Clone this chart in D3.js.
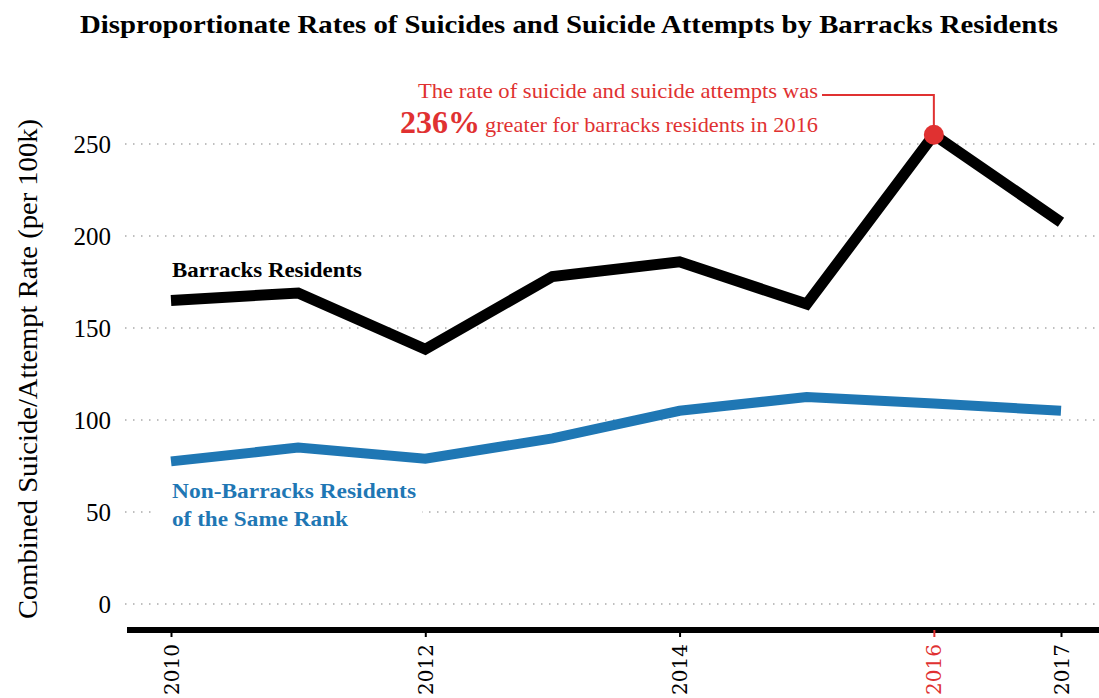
<!DOCTYPE html>
<html>
<head>
<meta charset="utf-8">
<script src="https://cdn.jsdelivr.net/npm/d3@7"></script>
<style>
  body { margin: 0; background: #fff; }
  svg { display: block; font-family: "Liberation Serif", "DejaVu Serif", serif; }
</style>
</head>
<body>
<svg id="chart" width="1099" height="698"></svg>
<script>
const years = [2010, 2011, 2012, 2013, 2014, 2015, 2016, 2017];
const barracks = [165, 169, 138.5, 178, 186, 163, 255, 207.5];
const nonBarracks = [77.5, 85, 79, 90, 105, 112.5, 109, 105];
const yTicks = [0, 50, 100, 150, 200, 250];
const xTicks = [2010, 2012, 2014, 2016, 2017];

const red = '#e03131';
const blue = '#1f77b4';

const svg = d3.select('#chart');
const width = +svg.attr('width');
const height = +svg.attr('height');

const xScale = d3.scaleLinear()
    .domain([2010, 2017])
    .range([171, 1061]);

const yScale = d3.scaleLinear()
    .domain([0, 250])
    .range([604, 144]);

const axisY = 630;

// title
svg.append('text')
    .attr('x', 569)
    .attr('y', 33)
    .attr('text-anchor', 'middle')
    .attr('font-weight', 'bold')
    .attr('font-size', 25)
    .attr('textLength', 978)
    .attr('lengthAdjust', 'spacingAndGlyphs')
    .text('Disproportionate Rates of Suicides and Suicide Attempts by Barracks Residents');

// y axis title
svg.append('text')
    .attr('transform', 'translate(37,' + 369 + ') rotate(-90)')
    .attr('text-anchor', 'middle')
    .attr('font-size', 27)
    .attr('textLength', 500)
    .attr('lengthAdjust', 'spacingAndGlyphs')
    .text('Combined Suicide/Attempt Rate (per 100k)');

// gridlines
svg.append('g').selectAll('line')
    .data(yTicks)
    .enter()
    .append('line')
    .attr('x1', 125)
    .attr('x2', width)
    .attr('y1', d => yScale(d))
    .attr('y2', d => yScale(d))
    .attr('stroke', '#aaa')
    .attr('stroke-width', 1.5)
    .attr('stroke-dasharray', '1.5,6.5');

// y tick labels
svg.append('g').selectAll('text')
    .data(yTicks)
    .enter()
    .append('text')
    .attr('x', 111)
    .attr('y', d => yScale(d))
    .attr('dy', '0.35em')
    .attr('text-anchor', 'end')
    .attr('font-size', 25)
    .text(d => d);

// x axis
const xAxis = d3.axisBottom(xScale)
    .tickValues(xTicks)
    .tickFormat(d3.format('d'))
    .tickSize(7)
    .tickPadding(10);

const gx = svg.append('g')
    .attr('transform', 'translate(0,' + axisY + ')')
    .call(xAxis);
gx.select('.domain').remove();
gx.insert('line', ':first-child')
    .attr('x1', 127).attr('x2', width)
    .attr('y1', 0).attr('y2', 0)
    .attr('stroke', '#000')
    .attr('stroke-width', 6);
gx.selectAll('.tick line')
    .attr('stroke', d => d === 2016 ? red : '#000')
    .attr('stroke-width', 2);
gx.selectAll('.tick text')
    .attr('font-family', '"DejaVu Serif", serif')
    .attr('font-size', 20)
    .attr('fill', d => d === 2016 ? red : '#000')
    .attr('transform', 'rotate(-90)')
    .attr('x', -14)
    .attr('y', 0)
    .attr('dy', '0.35em')
    .attr('text-anchor', 'end');

// lines
const line = d3.line()
    .x((d, i) => xScale(years[i]))
    .y(d => yScale(d));

svg.append('path')
    .datum(nonBarracks)
    .attr('d', line)
    .attr('fill', 'none')
    .attr('stroke', blue)
    .attr('stroke-width', 10);

svg.append('path')
    .datum(barracks)
    .attr('d', line)
    .attr('fill', 'none')
    .attr('stroke', '#000')
    .attr('stroke-width', 11);

// series labels
svg.append('text')
    .attr('x', 172)
    .attr('y', 277)
    .attr('font-weight', 'bold')
    .attr('font-size', 21)
    .attr('textLength', 190)
    .attr('lengthAdjust', 'spacingAndGlyphs')
    .text('Barracks Residents');

const nb = svg.append('g');
nb.append('rect')
    .attr('x', 152).attr('y', 478)
    .attr('width', 270).attr('height', 54)
    .attr('fill', '#fff');
nb.append('text')
    .attr('x', 172).attr('y', 498)
    .attr('font-weight', 'bold')
    .attr('font-size', 21)
    .attr('fill', blue)
    .attr('textLength', 244)
    .attr('lengthAdjust', 'spacingAndGlyphs')
    .text('Non-Barracks Residents');
nb.append('text')
    .attr('x', 172).attr('y', 526)
    .attr('font-weight', 'bold')
    .attr('font-size', 21)
    .attr('fill', blue)
    .attr('textLength', 176)
    .attr('lengthAdjust', 'spacingAndGlyphs')
    .text('of the Same Rank');

// annotation
const px = xScale(2016);
const py = yScale(barracks[6]);
svg.append('path')
    .attr('d', 'M' + px + ',' + py + 'V95H822')
    .attr('fill', 'none')
    .attr('stroke', red)
    .attr('stroke-width', 2);
svg.append('circle')
    .attr('cx', px).attr('cy', py)
    .attr('r', 10)
    .attr('fill', red);

svg.append('text')
    .attr('x', 818).attr('y', 98)
    .attr('text-anchor', 'end')
    .attr('font-size', 22)
    .attr('fill', red)
    .attr('textLength', 400)
    .attr('lengthAdjust', 'spacingAndGlyphs')
    .text('The rate of suicide and suicide attempts was');
svg.append('text')
    .attr('x', 400).attr('y', 133)
    .attr('font-weight', 'bold')
    .attr('font-size', 31)
    .attr('fill', red)
    .attr('textLength', 80)
    .attr('lengthAdjust', 'spacingAndGlyphs')
    .text('236%');
svg.append('text')
    .attr('x', 818).attr('y', 132)
    .attr('text-anchor', 'end')
    .attr('font-size', 22)
    .attr('fill', red)
    .attr('textLength', 333)
    .attr('lengthAdjust', 'spacingAndGlyphs')
    .text('greater for barracks residents in 2016');
</script>
</body>
</html>
